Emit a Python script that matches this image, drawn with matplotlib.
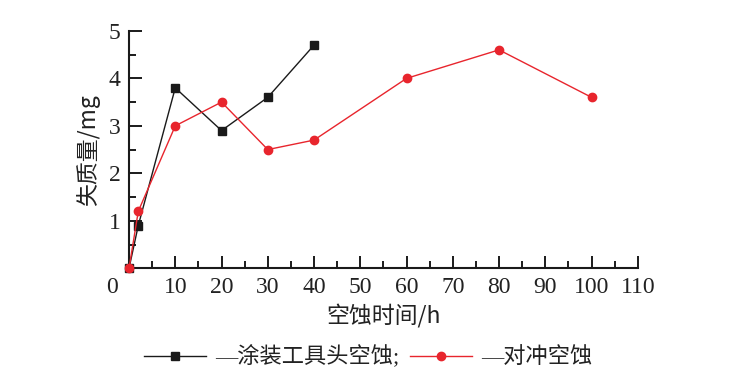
import matplotlib
matplotlib.use("Agg")
import matplotlib.pyplot as plt

# data
t_coat = [0, 2, 10, 20, 30, 40]
m_coat = [0, 0.9, 3.8, 2.9, 3.6, 4.7]
t_jet = [0, 2, 10, 20, 30, 40, 60, 80, 100]
m_jet = [0, 1.2, 3.0, 3.5, 2.5, 2.7, 4.0, 4.6, 3.6]
x_ticks = [10, 20, 30, 40, 50, 60, 70, 80, 90, 100, 110]
y_ticks = [1, 2, 3, 4, 5]
labels = ["—涂装工具头空蚀;", "—对冲空蚀"]

num_font = "Liberation Serif"
cjk = ["Noto Sans CJK SC", "DejaVu Sans"]
plt.rcParams["font.family"] = cjk

fig = plt.figure(figsize=(7.51, 3.86), dpi=100)
ax = fig.add_axes([0.1718, 0.305, 0.6775, 0.615])

ax.plot(t_coat, m_coat, color="#1a1a1a", lw=1.0, marker="s", ms=5.5,
        label=labels[0], clip_on=False, zorder=3)
ax.plot(t_jet, m_jet, color="#e8252d", lw=1.0, marker="o", ms=6,
        label=labels[1], clip_on=False, zorder=4)

ax.set_xlim(0, 110)
ax.set_ylim(0, 5)
ax.set_xticks(x_ticks)
ax.set_xticks(range(5, 110, 10), minor=True)
ax.set_yticks(y_ticks)
ax.set_yticks([0.5, 1.5, 2.5, 3.5, 4.5], minor=True)
for s in ("top", "right"):
    ax.spines[s].set_visible(False)
for s in ("left", "bottom"):
    ax.spines[s].set_linewidth(1.5)
    ax.spines[s].set_color("#1a1a1a")

ax.tick_params(which="major", direction="in", length=9, width=1.4,
               color="#1a1a1a", labelsize=17, pad=6)
ax.tick_params(which="minor", direction="in", length=5, width=1.4,
               color="#1a1a1a")
for lab in ax.get_xticklabels() + ax.get_yticklabels():
    lab.set_fontfamily(num_font)
    lab.set_color("#222222")

# shared "0" at the corner
ax.annotate("0", xy=(0, 0), xycoords="data", xytext=(-12, -6),
            textcoords="offset points", ha="center", va="top",
            fontsize=17, family=num_font, color="#222222")

ax.set_ylabel("失质量/mg", fontsize=16.5, color="#222222", labelpad=6)
ax.set_xlabel("空蚀时间/h", fontsize=16.5, color="#222222", labelpad=5)

fig.legend(loc="center", bbox_to_anchor=(0.49, 0.075), ncol=2,
           frameon=False, handlelength=2.8, handletextpad=0.4,
           columnspacing=0.5, labelcolor="#222222",
           prop={"family": [num_font, "Noto Sans CJK SC"], "size": 16})

fig.savefig("out.png", dpi=100, facecolor="white")
